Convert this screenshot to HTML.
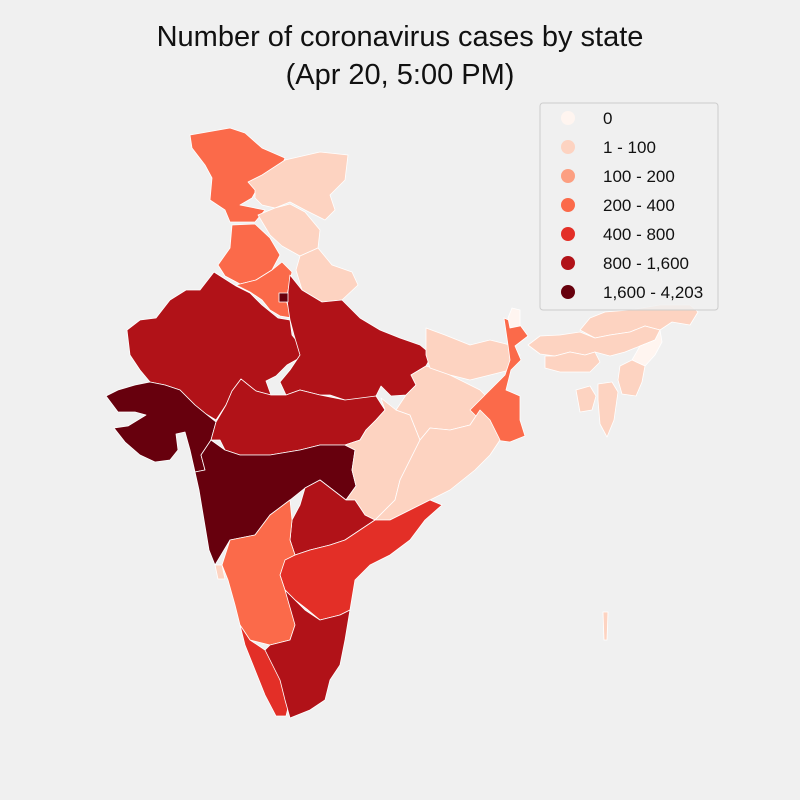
<!DOCTYPE html>
<html><head><meta charset="utf-8"><style>
body{margin:0;background:#f0f0f0;}
svg{display:block;font-family:"Liberation Sans",sans-serif;}
</style></head><body>
<svg id="map" width="800" height="800" viewBox="0 0 800 800">
<rect width="800" height="800" fill="#f0f0f0"/>
<text x="400" y="46" text-anchor="middle" font-size="29" fill="#111">Number of coronavirus cases by state</text>
<text x="400" y="84" text-anchor="middle" font-size="29" fill="#111">(Apr 20, 5:00 PM)</text>
<g id="states"></g>
<g id="legend"></g>
</svg>
<script>
const stateNames=["Jammu and Kashmir","Ladakh","Himachal Pradesh","Punjab","Uttarakhand","Haryana","Rajasthan","Gujarat","Uttar Pradesh","Madhya Pradesh","Maharashtra","Chhattisgarh","Jharkhand","Bihar","West Bengal","Odisha","Telangana","Andhra Pradesh","Karnataka","Goa","Kerala","Tamil Nadu","Sikkim","Arunachal Pradesh","Assam","Meghalaya","Nagaland","Manipur","Mizoram","Tripura","Delhi","Andaman and Nicobar"];
const stateCases=[368,18,39,245,44,233,1478,1851,1176,1407,4203,36,42,96,392,68,858,722,390,7,408,1477,0,1,35,12,0,2,1,2,2003,14];
const binLabels=["0","1 - 100","100 - 200","200 - 400","400 - 800","800 - 1,600","1,600 - 4,203"];
const binUpper=[0,100,200,400,800,1600,4203];
const binColors=["#fff5f0","#fdd3c1","#fc9f81","#fb6a4a","#e32f27","#b11218","#67000d"];
// geometry (outline shapes, not data)
const shapes=[
"190,135 230,128 245,133 262,148 285,158 280,170 262,180 252,198 240,205 265,210 255,222 230,222 225,210 210,200 212,178 205,165 192,148",
"248,182 262,175 285,160 320,152 348,155 345,180 330,195 335,210 325,220 305,210 290,202 275,208 262,205 255,198 255,190",
"258,215 275,208 290,204 305,212 320,230 318,248 300,256 282,246 270,235",
"232,225 255,224 270,238 280,255 272,270 256,280 240,284 225,276 218,265 230,248",
"300,256 318,248 332,265 352,272 358,285 342,300 322,302 302,290 296,270",
"236,285 256,280 272,270 282,262 292,272 286,300 292,318 280,316 270,310 262,300 250,292",
"214,272 236,286 250,293 262,305 278,318 290,320 292,335 300,345 305,355 287,365 276,376 266,381 271,395 256,391 241,379 232,391 226,405 216,420 206,414 195,405 180,390 165,385 150,382 140,370 130,355 127,330 140,320 156,318 170,300 186,290 200,290",
"106,396 118,390 135,385 150,382 165,385 180,390 195,405 206,414 216,422 211,440 201,455 205,470 195,472 190,450 185,432 176,434 178,450 170,460 155,462 140,455 125,442 114,428 128,426 146,415 135,412 118,412",
"290,275 302,290 322,302 342,300 360,318 380,330 400,338 420,345 432,355 426,366 411,375 416,385 406,395 391,396 381,386 376,396 360,400 345,400 330,395 320,395 300,390 286,395 280,382 290,370 300,355 294,335 290,320 287,300",
"226,405 232,391 241,379 256,391 271,395 286,395 300,390 320,395 345,400 376,396 385,410 376,420 366,430 360,440 345,445 320,445 300,450 270,455 240,455 225,450 220,440 211,440 216,422",
"201,455 211,440 225,450 240,455 270,455 300,450 320,445 345,445 355,450 352,470 356,486 346,500 320,480 305,488 290,500 270,515 255,535 230,540 215,565 209,550 204,520 199,490 195,472 205,470",
"345,445 360,440 366,430 376,420 385,410 381,398 396,410 410,415 420,440 410,460 400,480 395,500 385,510 375,520 365,515 355,500 346,500 356,486 352,470 355,450",
"411,375 426,366 440,370 460,380 480,390 490,400 480,410 470,425 450,430 430,428 420,440 410,415 396,410 406,395 416,385",
"426,328 445,335 470,345 490,340 510,345 520,355 510,370 490,375 470,380 450,375 430,368 426,355",
"504,318 520,325 528,336 515,346 521,360 511,370 506,390 520,396 520,420 525,436 510,442 495,440 480,420 470,410 480,400 490,390 505,375 510,360 508,345",
"420,440 430,428 450,430 470,425 480,410 490,420 500,440 490,455 475,470 450,490 430,500 410,510 390,520 375,520 385,510 395,500 400,480 410,460",
"320,480 346,500 355,500 365,515 375,520 360,530 345,540 330,545 310,550 295,555 290,540 292,520 300,505 305,488",
"375,520 390,520 410,510 430,500 442,505 425,520 410,540 390,555 370,565 355,580 350,610 340,615 320,620 308,610 295,600 285,590 280,575 285,558 295,555 310,550 330,545 345,540 360,530",
"230,540 255,535 270,515 290,500 292,520 290,540 295,555 285,560 280,575 285,590 295,600 305,610 295,625 290,640 270,645 250,640 240,625 235,605 228,580 222,565",
"215,565 222,565 225,579 218,579",
"240,625 250,640 265,650 275,662 285,680 290,700 286,716 276,716 265,695 255,670 245,645",
"285,590 305,610 320,620 340,615 350,610 345,640 340,665 330,680 325,700 310,710 290,718 285,700 280,680 270,660 265,650 270,645 290,640 295,625",
"508,318 512,308 520,310 520,326 510,328",
"580,330 590,318 605,312 630,310 660,305 690,305 698,312 690,325 672,322 660,330 645,326 630,332 610,335 595,338",
"528,345 540,336 560,335 580,332 595,338 610,335 630,332 645,326 660,330 655,340 640,346 625,352 610,356 595,352 585,355 570,352 555,356 540,354",
"545,356 555,356 570,352 585,355 595,352 600,362 590,372 560,372 545,368",
"640,346 655,340 660,330 662,342 655,355 645,366 632,360",
"620,366 632,360 645,366 642,382 636,396 622,394 618,380",
"598,384 612,382 618,392 614,420 607,437 600,424 598,400",
"576,390 590,386 596,396 592,410 580,412",
"279,293 288,293 288,302 279,302",
"603,612 608,612 607,640 604,640"
];
function binIndex(v){for(let i=0;i<binUpper.length;i++){if(v<=binUpper[i])return i;}return binUpper.length-1;}
const ns="http://www.w3.org/2000/svg";
const g=document.getElementById('states');
stateNames.forEach((n,i)=>{
  const p=document.createElementNS(ns,'polygon');
  p.setAttribute('points',shapes[i]);
  p.setAttribute('fill',binColors[binIndex(stateCases[i])]);
  p.setAttribute('stroke','#ffffff');
  p.setAttribute('stroke-width','0.8');
  p.setAttribute('stroke-linejoin','round');
  
  
  const t=document.createElementNS(ns,'title');t.textContent=n+': '+stateCases[i];p.appendChild(t);
  g.appendChild(p);
});
const lg=document.getElementById('legend');
const box=document.createElementNS(ns,'rect');
box.setAttribute('x',540);box.setAttribute('y',103);box.setAttribute('width',178);box.setAttribute('height',207);
box.setAttribute('rx',3);box.setAttribute('fill','#f0f0f0');box.setAttribute('fill-opacity','0.85');box.setAttribute('stroke','#cccccc');


lg.appendChild(box);
binLabels.forEach((l,i)=>{
  const y=118+i*29;
  const c=document.createElementNS(ns,'circle');
  c.setAttribute('cx',568);c.setAttribute('cy',y);c.setAttribute('r',7);c.setAttribute('fill',binColors[i]);
  
  
  lg.appendChild(c);
  const t=document.createElementNS(ns,'text');
  t.setAttribute('x',603);t.setAttribute('y',y+6);t.setAttribute('font-size',17);t.setAttribute('fill','#111');
  t.textContent=l;
  
  
  lg.appendChild(t);
});
</script>
</body></html>
